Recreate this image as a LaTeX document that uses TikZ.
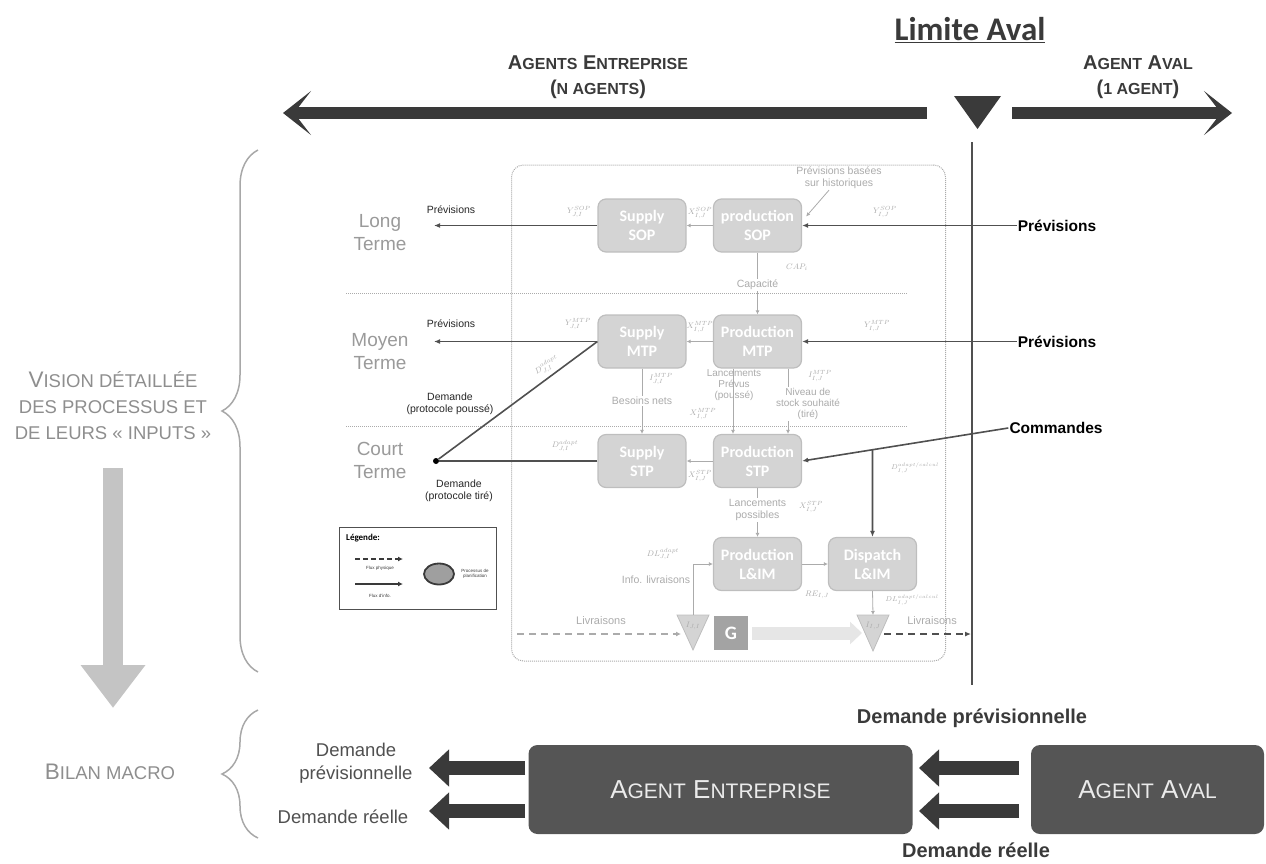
\documentclass[tikz,border=0pt]{standalone}
\usepackage{fontspec}
\setmainfont{Liberation Sans}
\newfontfamily\carl{Carlito}
\usetikzlibrary{arrows.meta,shapes.geometric,calc,decorations.pathreplacing}
\definecolor{dk}{HTML}{3A3A3A}
\definecolor{infoc}{HTML}{505050}
\definecolor{boxg}{HTML}{D4D4D4}
\definecolor{boxb}{HTML}{BEBEBE}
\definecolor{lt}{HTML}{ABABAB}
\definecolor{termc}{HTML}{9A9A9A}
\definecolor{visc}{HTML}{8E8E8E}
\definecolor{agentc}{HTML}{555555}
\definecolor{garrow}{HTML}{C4C4C4}
\definecolor{txtd}{HTML}{505050}
\definecolor{wideg}{HTML}{E6E6E6}
\definecolor{gbox}{HTML}{A3A3A3}
\definecolor{brc}{HTML}{A8A8A8}
\newcommand\smT[1]{{\fontsize{16}{16}\selectfont #1}}
\newcommand\smV[1]{{\fontsize{18.5}{18.5}\selectfont #1}}
\newcommand\smG[1]{{\fontsize{21}{21}\selectfont #1}}
\begin{document}
\begin{tikzpicture}[x=1pt,y=-1pt,
  proc/.style={draw=boxb, fill=boxg, rounded corners=8pt, minimum width=88pt, minimum height=53pt, inner sep=0pt, text=white, font=\carl\bfseries\fontsize{16}{19}\selectfont, align=center, line width=1.2pt},
  glab/.style={text=lt, font=\fontsize{10.5}{12}\selectfont, align=center, inner sep=1pt},
  wlab/.style={glab, fill=white},
  mth/.style={text=lt, font=\fontsize{8.5}{9.5}\selectfont, inner sep=0pt},
  blab/.style={text=black!85, font=\fontsize{10.5}{12.5}\selectfont, align=center, inner sep=1pt},
  rlab/.style={text=black, font=\bfseries\fontsize{15.5}{18}\selectfont, inner sep=1pt},
  term/.style={text=termc, font=\fontsize{19}{23}\selectfont, align=center},
  info/.style={draw=infoc, line width=1.6pt, -{Latex[length=6pt,width=5pt]}},
  infon/.style={draw=infoc, line width=1.6pt},
  ginfo/.style={draw=lt, line width=0.8pt, -{Latex[length=4pt,width=4pt]}},
  bigA/.style={draw=dk, line width=12pt, -{Stealth[length=28pt,width=44pt,inset=17pt]}},
  blockA/.style={draw=dk, line width=14pt, -{Triangle[length=20pt,width=36pt]}},
  ttl/.style={text=dk, font=\bfseries\fontsize{20}{25}\selectfont, align=center},
  vis/.style={text=visc, font=\fontsize{22.5}{26}\selectfont, align=center},
  agent/.style={fill=agentc, rounded corners=9pt, text=white!92!black, font=\fontsize{26}{28}\selectfont, minimum height=89pt},
  brace/.style={draw=brc, line width=1.5pt, decorate, decoration={brace, amplitude=36pt}},
  bbold/.style={text=dk, font=\bfseries\fontsize{20}{23}\selectfont},
  dgl/.style={text=txtd, font=\fontsize{18.5}{23}\selectfont, align=center},
  phys/.style={draw=lt, line width=1.2pt, dash pattern=on 7pt off 5pt, -{Latex[length=5pt,width=5pt]}},
  physd/.style={draw=infoc, line width=1.4pt, dash pattern=on 7pt off 5pt, -{Latex[length=6pt,width=5pt]}}
]
\useasboundingbox (0,0) rectangle (1266,863);

% ---------- top ----------
\node[font=\carl\bfseries\fontsize{33}{36}\selectfont, text=dk] (lim) at (970,30) {\underline{Limite Aval}};
\node[ttl] (aent) at (598,77) {A\smT{GENTS} E\smT{NTREPRISE}\\(\smT{N AGENTS})};
\node[ttl] (aaval) at (1138,77) {A\smT{GENT} A\smT{VAL}\\(\smT{1 AGENT})};
\coordinate (aLs) at (927,113); \coordinate (aLe) at (283,113);
\draw[bigA] (aLs) -- (aLe);
\coordinate (aRs) at (1012,113); \coordinate (aRe) at (1232,113);
\draw[bigA] (aRs) -- (aRe);
\fill[dk] (954,96) -- (1001,96) -- (977.5,129) -- cycle;
\coordinate (vT) at (972,142); \coordinate (vB) at (972,685);
\draw[infoc, line width=2pt] (vT) -- (vB);

% ---------- left column ----------
\draw[brace] (258,672) -- (258,150);
\draw[brace] (258,838) -- (258,710);
\node[vis] (vis) at (113,406) {V\smV{ISION DÉTAILLÉE}\\\smV{DES PROCESSUS ET}\\\smV{DE LEURS « INPUTS »}};
\coordinate (gaS) at (113,468); \coordinate (gaE) at (113,708);
\draw[draw=garrow, line width=20pt, -{Triangle[length=43pt,width=62pt]}] (gaS) -- (gaE);
\node[vis] (bilan) at (110,772) {B\smV{ILAN MACRO}};

% ---------- panel ----------
\node[draw=lt, line width=1pt, densely dotted, rounded corners=12pt, minimum width=434pt, minimum height=496pt, inner sep=0pt] (panel) at (728.5,413) {};
\coordinate (s1a) at (346,293); \coordinate (s1b) at (907,293);
\coordinate (s2a) at (346,426); \coordinate (s2b) at (907,426);
\draw[lt, densely dotted, line width=1pt] (s1a) -- (s1b);
\draw[lt, densely dotted, line width=1pt] (s2a) -- (s2b);

\node[term] (tLong) at (380,233) {Long\\Terme};
\node[term] (tMoy) at (380,352) {Moyen\\Terme};
\node[term] (tCourt) at (380,460) {Court\\Terme};

% process boxes
\node[proc] (sSOP) at (642,225.5) {Supply\\SOP};
\node[proc] (pSOP) at (757.5,225.5) {production\\SOP};
\node[proc] (sMTP) at (642,341.5) {Supply\\MTP};
\node[proc] (pMTP) at (757.5,341.5) {Production\\MTP};
\node[proc] (sSTP) at (642,461) {Supply\\STP};
\node[proc] (pSTP) at (757.5,461) {Production\\STP};
\node[proc] (pLIM) at (757.5,564) {Production\\L\&IM};
\node[proc] (dLIM) at (872.5,564) {Dispatch\\L\&IM};

% internal grey flows
\draw[ginfo] (pSOP.west) -- (sSOP.east);
\draw[ginfo] (pMTP.west) -- (sMTP.east);
\draw[ginfo] (pSTP.west) -- (sSTP.east);
\draw[ginfo] (pSOP.south) -- (pMTP.north);
\node[wlab] (capa) at (757.5,285) {Capacité};
\node[mth] (cap) at (797,267) {$CAP_i$};
\draw[ginfo] (sMTP.south) -- (sSTP.north);
\node[wlab] (bn) at (642,401) {Besoins nets};
\node[mth] (imji) at (661,379) {$I^{MTP}_{J,I}$};
\coordinate (lpA) at ($(pMTP.south)+(-24.5,0)$); \coordinate (lpB) at ($(pSTP.north)+(-24.5,0)$);
\draw[ginfo] (lpA) -- (lpB);
\node[wlab, fill=none, font=\fontsize{10}{11}\selectfont] (lp) at (734,385) {Lancements\\Prévus\\(poussé)};
\node[mth] (xmij2) at (703,414) {$X^{MTP}_{I,J}$};
\coordinate (nsA) at ($(pMTP.south)+(30.5,0)$); \coordinate (nsB) at ($(pSTP.north)+(30.5,0)$);
\draw[ginfo] (nsA) -- (nsB);
\node[wlab, font=\fontsize{10}{11}\selectfont] (ns) at (808,404) {Niveau de\\stock souhaité\\(tiré)};
\node[mth] (imij) at (820,376) {$I^{MTP}_{I,J}$};
\draw[ginfo] (pSTP.south) -- (pLIM.north);
\node[wlab] (lps) at (757.5,510) {Lancements\\possibles};
\node[mth] (xsij2) at (811,507) {$X^{STP}_{I,J}$};
\draw[ginfo] (pLIM.east) -- (dLIM.west);
\node[mth] (re) at (817,595) {$RE_{I,J}$};

% labels on flows
\node[mth] (ysji) at (579,212) {$Y^{SOP}_{J,I}$};
\node[mth] (xsij) at (700,213) {$X^{SOP}_{I,J}$};
\node[mth] (ysij) at (885,212) {$Y^{SOP}_{I,J}$};
\node[mth] (ymji) at (578,324) {$Y^{MTP}_{J,I}$};
\node[mth] (xmij) at (700,327) {$X^{MTP}_{I,J}$};
\node[mth] (ymij) at (877,326) {$Y^{MTP}_{I,J}$};
\node[mth, rotate=30] (dadm) at (547,366) {$D^{adapt}_{J,I}$};
\node[mth] (dads) at (565,446) {$D^{adapt}_{J,I}$};
\node[mth] (xstij) at (700,476) {$X^{STP}_{I,J}$};
\node[mth, font=\fontsize{7}{8}\selectfont] (dac) at (915,468) {$D^{adapt/calcul}_{I,J}$};
\node[mth, font=\fontsize{7}{8}\selectfont] (dlac) at (912,600) {$DL^{adapt/calcul}_{I,J}$};
\node[mth] (dlji) at (663,554) {$DL^{adapt}_{J,I}$};
\node[glab] (infl) at (656,580) {Info. livraisons};

\node[glab] (pbh) at (839,178) {Prévisions basées\\sur historiques};
\draw[ginfo] ($(pbh.south)+(-10,0)$) -- ($(pSOP.east)+(4,-9)$);

% info flows (left)
\coordinate (pL1) at (434,225.5);
\coordinate (pL2) at (434,341.5);
\draw[info] (sSOP.west) -- (pL1);
\draw[info] (sMTP.west) -- (pL2);
\node[blab] (lp1) at (451,210) {Prévisions};
\node[blab] (lp2) at (451,324) {Prévisions};
\node[circle, fill=black, inner sep=0pt, minimum size=6pt] (dC) at (436,461) {};
\draw[infon] (sSTP.west) -- (dC);
\draw[infon] (sMTP.west) -- (dC);
\node[blab] (dpp) at (450,404) {Demande\\(protocole poussé)};
\node[blab] (dpt) at (459,491) {Demande\\(protocole tiré)};

% info flows (right)
\node[rlab] (rp1) at (1057,225.5) {Prévisions};
\node[rlab] (rp2) at (1057,341.5) {Prévisions};
\node[rlab] (cmd) at (1056,428) {Commandes};
\draw[info] (rp1.west) -- (pSOP.east);
\draw[info] (rp2.west) -- (pMTP.east);
\draw[info] (cmd.west) -- (pSTP.east);
\coordinate (cm) at (intersection of cmd.west--pSTP.east and dLIM.north--dLIM.south);
\draw[info] (cm) -- (dLIM.north);

% stocks / deliveries
\fill[boxg] (677,615) -- (709,615) -- (693,650) -- cycle;
\draw[boxb, line width=0.8pt] (677,615) -- (709,615) -- (693,650) -- cycle;
\node[mth, font=\fontsize{8}{9}\selectfont] (tL) at (693,626) {$I_{J,I}$};
\fill[boxg] (857,615) -- (889,615) -- (873,651) -- cycle;
\draw[boxb, line width=0.8pt] (857,615) -- (889,615) -- (873,651) -- cycle;
\node[mth, font=\fontsize{8}{9}\selectfont] (tR) at (873,626) {$I_{I,J}$};
\coordinate (tLtop) at (693,615);
\coordinate (tRtop) at (873,615);
\draw[ginfo] (tLtop) |- (pLIM.west);
\draw[ginfo] (dLIM.south) -- (tRtop);
\node[fill=gbox, minimum width=34pt, minimum height=34pt, inner sep=0pt, text=white, font=\carl\bfseries\fontsize{19}{20}\selectfont] (G) at (731,633) {G};
\coordinate (wgS) at (752,633); \coordinate (wgE) at (862,633);
\draw[draw=wideg, line width=13pt, -{Triangle[length=12pt,width=22pt]}] (wgS) -- (wgE);
\coordinate (livS) at (517,634); \coordinate (tLin) at (681,634);
\draw[phys] (livS) -- (tLin);
\node[glab, font=\fontsize{11}{12}\selectfont] (liv1) at (601,621) {Livraisons};
\coordinate (tRout) at (884,634); \coordinate (vL) at (971,634);
\draw[physd] (tRout) -- (vL);
\node[glab, font=\fontsize{11}{12}\selectfont] (liv2) at (932,621) {Livraisons};

% legend
\node[draw=infoc, line width=1pt, minimum width=157pt, minimum height=82pt, inner sep=0pt] (leg) at (417.5,568) {};
\node[anchor=west, font=\carl\bfseries\fontsize{9}{10}\selectfont, inner sep=0pt] (legt) at (346,538) {Légende:};
\coordinate (l1a) at (355,559); \coordinate (l1b) at (403,559);
\draw[draw=dk, line width=1.2pt, dash pattern=on 5pt off 3pt, -{Latex[length=5pt,width=5pt]}] (l1a) -- (l1b);
\node[font=\fontsize{4.5}{5}\selectfont, text=dk] (l1t) at (380,568) {Flux physique};
\coordinate (l2a) at (355,584); \coordinate (l2b) at (403,584);
\draw[draw=dk, line width=1.2pt, -{Latex[length=5pt,width=5pt]}] (l2a) -- (l2b);
\node[font=\fontsize{4.5}{5}\selectfont, text=dk] (l2t) at (380,596) {Flux d'info.};
\node[ellipse, fill=gray!75, draw=dk, line width=1.8pt, minimum width=30pt, minimum height=21pt, inner sep=0pt] (ov) at (439,574) {};
\node[font=\fontsize{4.5}{5.5}\selectfont, text=dk, align=center] (ovt) at (475,574) {Processus de\\planification};

% ---------- bottom ----------
\node[agent, minimum width=384pt] (ae) at (720.5,789.5) {A\smG{GENT} E\smG{NTREPRISE}};
\node[agent, minimum width=233pt] (aa) at (1147.5,789.5) {A\smG{GENT} A\smG{VAL}};
\coordinate (b1s) at (1019,768); \coordinate (b1e) at (919,768);
\coordinate (b2s) at (1019,811); \coordinate (b2e) at (919,811);
\coordinate (b3s) at (525,768); \coordinate (b3e) at (429,768);
\coordinate (b4s) at (525,811); \coordinate (b4e) at (429,811);
\draw[blockA] (b1s) -- (b1e);
\draw[blockA] (b2s) -- (b2e);
\draw[blockA] (b3s) -- (b3e);
\draw[blockA] (b4s) -- (b4e);
\node[bbold] (dpv) at (972,718) {Demande prévisionnelle};
\node[bbold] (dre) at (976,850) {Demande réelle};
\node[dgl] (ldp) at (356,763) {Demande\\prévisionnelle};
\node[dgl] (ldr) at (343,817) {Demande réelle};
\end{tikzpicture}
\end{document}
